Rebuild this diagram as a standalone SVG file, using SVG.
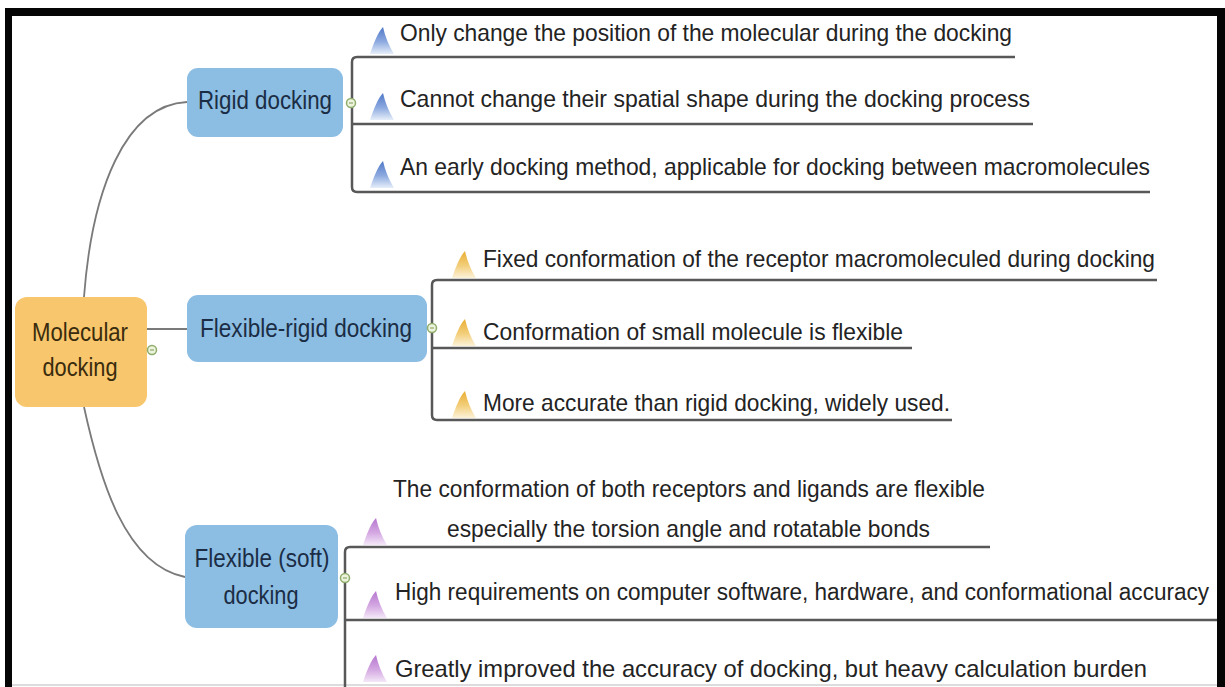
<svg xmlns="http://www.w3.org/2000/svg" width="1225" height="687" viewBox="0 0 1225 687">
  <defs>
    <linearGradient id="finBlue" x1="0" y1="0" x2="0" y2="1">
      <stop offset="0" stop-color="#4f78c8"/>
      <stop offset="0.55" stop-color="#8eabe0"/>
      <stop offset="1" stop-color="#e6eef9"/>
    </linearGradient>
    <linearGradient id="finYellow" x1="0" y1="0" x2="0" y2="1">
      <stop offset="0" stop-color="#e9ad32"/>
      <stop offset="0.55" stop-color="#f3cf7c"/>
      <stop offset="1" stop-color="#fcf2da"/>
    </linearGradient>
    <linearGradient id="finPurple" x1="0" y1="0" x2="0" y2="1">
      <stop offset="0" stop-color="#b676cf"/>
      <stop offset="0.55" stop-color="#d4a8e2"/>
      <stop offset="1" stop-color="#f4e8f8"/>
    </linearGradient>
    <!-- one bullet fin, origin at its bottom-left corner -->
    <path id="fin" d="M0 0 C3 -9 8 -22 13 -27 C15 -18 19 -8 24 0 Z"/>
    <g id="toggle">
      <circle r="4.5" fill="#eef4dc" stroke="#8cad6c" stroke-width="1.5"/>
      <line x1="-2" y1="0" x2="2" y2="0" stroke="#7a9a5c" stroke-width="1"/>
    </g>
  </defs>
  <style>
    .topic { fill: #8cbde3; }
    .root { fill: #f8c66c; }
    .topic-label { font-family: "Liberation Sans", Arial, sans-serif; font-size: 25px; fill: #1b2d45; text-anchor: middle; }
    .root-label { font-family: "Liberation Sans", Arial, sans-serif; font-size: 25px; fill: #3a2c0e; text-anchor: middle; }
    .item { font-family: "Liberation Sans", Arial, sans-serif; font-size: 24px; fill: #232323; }
    .bracket { fill: none; stroke: #585858; stroke-width: 2.5; stroke-linejoin: round; }
    .branch { fill: none; stroke: #7a7a7a; stroke-width: 1.8; }
  </style>

  <rect x="0" y="0" width="1225" height="687" fill="#ffffff"/>

  <!-- frame -->
  <g id="frame">
    <rect x="5" y="8" width="1220" height="8" fill="#050505"/>
    <rect x="5" y="8" width="7" height="679" fill="#050505"/>
    <rect x="1217" y="8" width="8" height="679" fill="#050505"/>
    <line x1="12" y1="685" x2="1217" y2="685" stroke="#d0d0d0" stroke-width="1.5"/>
  </g>

  <!-- connectors: root to topics, topics to their item brackets -->
  <g id="connectors">
    <path class="branch" d="M84 297 C92 190 125 105 187 102" stroke="#a0a0a0"/>
    <line class="branch" x1="147" y1="329" x2="187" y2="329" stroke="#555555" stroke-width="2.5"/>
    <path class="branch" d="M84 407 C100 480 125 565 185 577" stroke="#606060"/>

    <path class="bracket" d="M1015 57 H357 Q352 57 352 62 V187 Q352 192 357 192 H1150"/>
    <path class="bracket" d="M352 124 H1033"/>

    <path class="bracket" d="M1157 280 H437 Q432 280 432 285 V415 Q432 420 437 420 H952"/>
    <path class="bracket" d="M432 348 H912"/>

    <path class="bracket" d="M990 547 H350 Q345 547 345 552 V690"/>
    <path class="bracket" d="M345 620 H1217"/>
  </g>

  <!-- root -->
  <g id="molecular-docking">
    <rect class="root" x="15" y="297" width="132" height="110" rx="12"/>
    <text class="root-label" x="80" y="341" textLength="96" lengthAdjust="spacingAndGlyphs">Molecular</text>
    <text class="root-label" x="80" y="376" textLength="75" lengthAdjust="spacingAndGlyphs">docking</text>
    <use href="#toggle" x="152" y="350"/>
  </g>

  <!-- rigid docking -->
  <g id="rigid-docking">
    <rect class="topic" x="187" y="68" width="156" height="69" rx="11"/>
    <text class="topic-label" x="265" y="109" textLength="134" lengthAdjust="spacingAndGlyphs">Rigid docking</text>
    <use href="#toggle" x="351" y="103"/>
  </g>
  <g id="rigid-items">
    <use href="#fin" x="370" y="54" fill="url(#finBlue)"/>
    <text class="item" x="400" y="41" textLength="612" lengthAdjust="spacingAndGlyphs">Only change the position of the molecular during the docking</text>
    <use href="#fin" x="370" y="120" fill="url(#finBlue)"/>
    <text class="item" x="400" y="107" textLength="630" lengthAdjust="spacingAndGlyphs">Cannot change their spatial shape during the docking process</text>
    <use href="#fin" x="370" y="188" fill="url(#finBlue)"/>
    <text class="item" x="400" y="175" textLength="750" lengthAdjust="spacingAndGlyphs">An early docking method, applicable for docking between macromolecules</text>
  </g>

  <!-- flexible-rigid docking -->
  <g id="flexible-rigid-docking">
    <rect class="topic" x="187" y="295" width="240" height="67" rx="11"/>
    <text class="topic-label" x="306" y="337" textLength="212" lengthAdjust="spacingAndGlyphs">Flexible-rigid docking</text>
    <use href="#toggle" x="432" y="328"/>
  </g>
  <g id="flexible-rigid-items">
    <use href="#fin" x="452" y="278" fill="url(#finYellow)"/>
    <text class="item" x="483" y="267" textLength="672" lengthAdjust="spacingAndGlyphs">Fixed conformation of the receptor macromoleculed during docking</text>
    <use href="#fin" x="452" y="346" fill="url(#finYellow)"/>
    <text class="item" x="483" y="340" textLength="420" lengthAdjust="spacingAndGlyphs">Conformation of small molecule is flexible</text>
    <use href="#fin" x="452" y="418" fill="url(#finYellow)"/>
    <text class="item" x="483" y="411" textLength="467" lengthAdjust="spacingAndGlyphs">More accurate than rigid docking, widely used.</text>
  </g>

  <!-- flexible (soft) docking -->
  <g id="flexible-soft-docking">
    <rect class="topic" x="185" y="525" width="153" height="103" rx="12"/>
    <text class="topic-label" x="262" y="567" textLength="135" lengthAdjust="spacingAndGlyphs">Flexible (soft)</text>
    <text class="topic-label" x="261" y="604" textLength="75" lengthAdjust="spacingAndGlyphs">docking</text>
    <use href="#toggle" x="345" y="578"/>
  </g>
  <g id="flexible-soft-items">
    <use href="#fin" x="363" y="545" fill="url(#finPurple)"/>
    <text class="item" x="393" y="497" textLength="592" lengthAdjust="spacingAndGlyphs">The conformation of both receptors and ligands are flexible</text>
    <text class="item" x="447" y="537" textLength="483" lengthAdjust="spacingAndGlyphs">especially the torsion angle and rotatable bonds</text>
    <use href="#fin" x="363" y="618" fill="url(#finPurple)"/>
    <text class="item" x="395" y="600" textLength="814" lengthAdjust="spacingAndGlyphs" style="font-size:23px">High requirements on computer software, hardware, and conformational accuracy</text>
    <use href="#fin" x="363" y="682" fill="url(#finPurple)"/>
    <text class="item" x="395" y="677" textLength="752" lengthAdjust="spacingAndGlyphs">Greatly improved the accuracy of docking, but heavy calculation burden</text>
  </g>
</svg>
